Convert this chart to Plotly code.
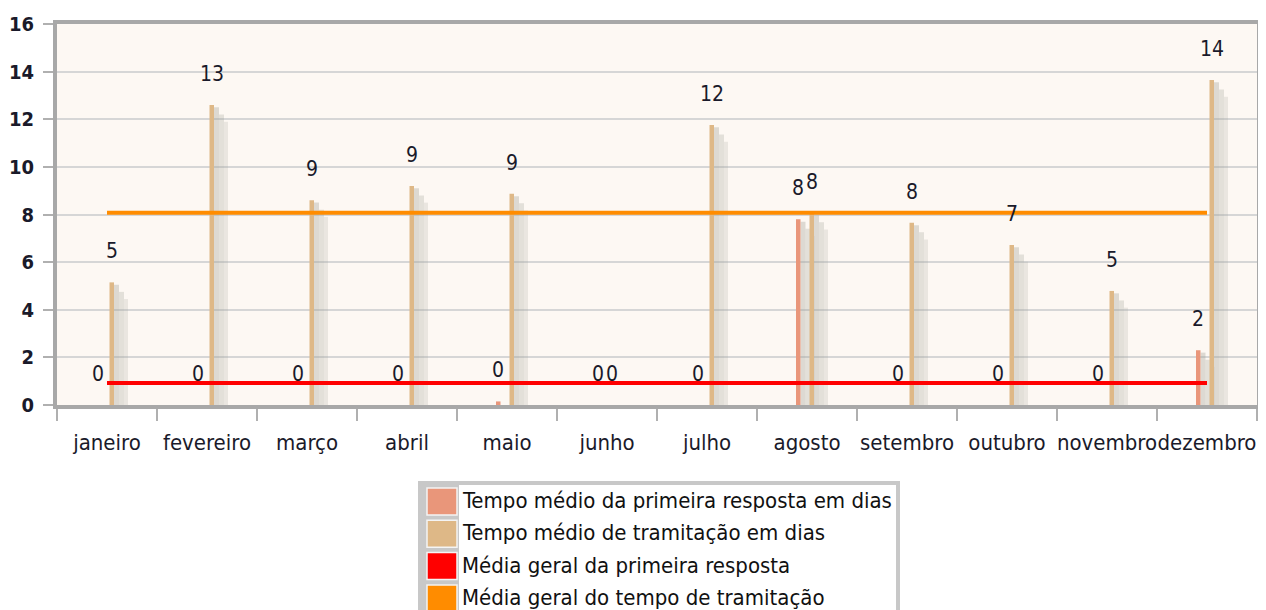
import plotly.graph_objects as go

months = ["janeiro", "fevereiro", "março", "abril", "maio", "junho",
          "julho", "agosto", "setembro", "outubro", "novembro", "dezembro"]
primeira = [0, 0, 0, 0, 0.15, 0, 0, 7.8, 0, 0, 0, 2.3]
tramitacao = [5.15, 12.6, 8.6, 9.2, 8.87, 0, 11.76, 8.07, 7.65, 6.72, 4.79, 13.65]
media_primeira = 0.92
media_tramitacao = 8.07

names = ["Tempo médio da primeira resposta em dias",
         "Tempo médio de tramitação em dias",
         "Média geral da primeira resposta",
         "Média geral do tempo de tramitação"]
colors = ["#E9967A", "#DEB887", "#FF0000", "#FF8C00"]

FONT = "DejaVu Sans Condensed"
TXT = "#1a1a2a"

# page offset (browser body margin) and target plot-area geometry in window pixels
OFF = 8
W, H = 1258, 602
L, R, T, B = 57, 1257, 24, 405
def px(X):
    return (X - L) / (R - L)
def py(Y):
    return (B - Y) / (B - T)

fig = go.Figure()

# shadows (3D effect), derived from the data
for vals, off in [(primeira, -0.065), (tramitacao, 0.07)]:
    for k, (dx, w, drop, alpha) in enumerate([(0.0, 0.05, 0.1, 0.35), (0.05, 0.05, 0.4, 0.28), (0.10, 0.04, 0.7, 0.2)]):
        fig.add_trace(go.Bar(
            x=months, y=[max(v - drop, 0) if v > 0.5 else 0 for v in vals],
            offset=off + dx, width=w,
            marker=dict(color=f"rgba(160,160,150,{alpha})", line=dict(width=0)),
            showlegend=False, hoverinfo="skip"))

fig.add_trace(go.Bar(x=months, y=primeira, name=names[0], offset=-0.11, width=0.045,
                     marker=dict(color=colors[0], line=dict(width=0)), showlegend=False))
fig.add_trace(go.Bar(x=months, y=tramitacao, name=names[1], offset=0.025, width=0.045,
                     marker=dict(color=colors[1], line=dict(width=0)), showlegend=False))
fig.add_trace(go.Scatter(x=months, y=[media_primeira] * len(months), name=names[2], mode="lines",
                         line=dict(color=colors[2], width=4), showlegend=False))
fig.add_trace(go.Scatter(x=months, y=[media_tramitacao] * len(months), name=names[3], mode="lines",
                         line=dict(color=colors[3], width=4), showlegend=False))

annotations = []
for i in range(len(months)):
    annotations.append(dict(x=i, y=primeira[i], xref="x", yref="y", text=str(round(primeira[i])),
                            showarrow=False, xshift=-9, yshift=31, yanchor="middle",
                            font=dict(family=FONT, size=21, color=TXT)))
    annotations.append(dict(x=i, y=tramitacao[i], xref="x", yref="y", text=str(round(tramitacao[i])),
                            showarrow=False, xshift=5, yshift=31, yanchor="middle",
                            font=dict(family=FONT, size=21, color=TXT)))

shapes = []
# hand-drawn legend box
shapes.append(dict(type="rect", xref="paper", yref="paper", x0=px(420), x1=px(898), y0=py(625), y1=py(483),
                   fillcolor="white", line=dict(color="#c8c8c8", width=4), layer="above"))
shapes.append(dict(type="rect", xref="paper", yref="paper", x0=px(422), x1=px(459), y0=py(625), y1=py(485),
                   fillcolor="#c8c8c8", line=dict(width=0), layer="above"))
for i, (n, c) in enumerate(zip(names, colors)):
    top = 488 + 32.3 * i
    shapes.append(dict(type="rect", xref="paper", yref="paper", x0=px(427), x1=px(457),
                       y0=py(top + 27), y1=py(top), fillcolor=c,
                       line=dict(color="#f4f4f4", width=1.5), layer="above"))
    annotations.append(dict(x=px(460), y=py(top + 12.5), xref="paper", yref="paper", text=n,
                            showarrow=False, xanchor="left", yanchor="middle",
                            font=dict(family=FONT, size=22, color="#111111")))

fig.update_layout(
    width=W, height=H,
    margin=dict(l=L - OFF, r=(W + OFF) - R, t=T - OFF, b=(H + OFF) - B, autoexpand=False),
    paper_bgcolor="white", plot_bgcolor="#fdf8f3",
    barmode="overlay", showlegend=False,
    annotations=annotations, shapes=shapes,
    font=dict(family=FONT, color=TXT),
)
fig.update_xaxes(type="category", range=[-0.5, 11.5], tickson="boundaries",
                 ticks="outside", ticklen=12, tickwidth=2, tickcolor="#b0b0b0",
                 showline=True, linewidth=4, linecolor="#a8a8a8", mirror=True,
                 showgrid=False, ticklabelstandoff=15, tickangle=0, automargin=False,
                 tickfont=dict(family=FONT, size=22, color=TXT))
fig.update_yaxes(range=[0, 16], dtick=2, ticks="outside", ticklen=10, tickwidth=2, tickcolor="#b0b0b0",
                 showline=True, linewidth=4, linecolor="#a8a8a8", mirror=True, automargin=False,
                 showgrid=True, gridcolor="#d6d6d6", gridwidth=2, zeroline=False,
                 ticklabelstandoff=5,
                 tickfont=dict(family=FONT, size=20, color=TXT, weight="bold"))

fig.write_html("out.html")
